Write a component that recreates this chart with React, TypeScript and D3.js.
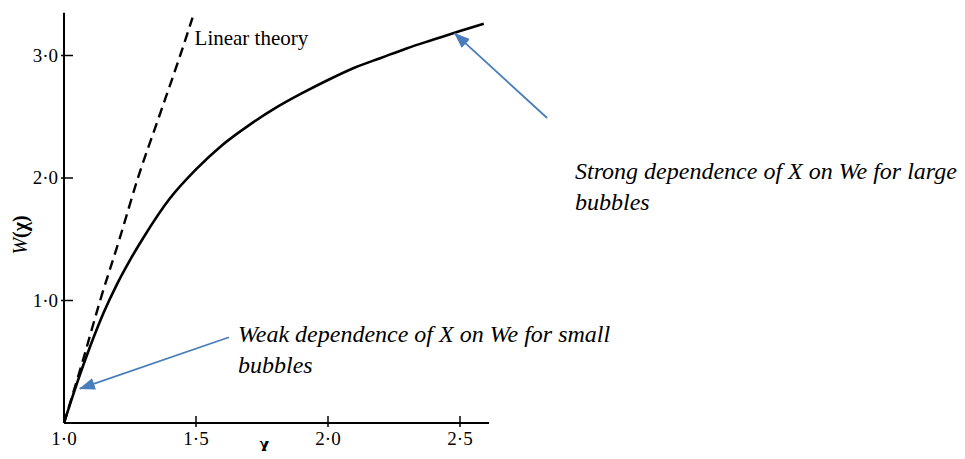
import * as d3 from "d3";
import React from "react";

// solid curve W(chi)
const chiValues = [1.0, 1.05, 1.1, 1.15, 1.2, 1.25, 1.3, 1.4, 1.5, 1.6, 1.7, 1.8, 1.9, 2.0, 2.1, 2.2, 2.3, 2.4, 2.5, 2.59];
const wValues = [0.0, 0.33, 0.63, 0.9, 1.13, 1.33, 1.51, 1.83, 2.07, 2.27, 2.43, 2.57, 2.69, 2.8, 2.9, 2.98, 3.06, 3.13, 3.2, 3.26];

// dashed "Linear theory" curve
const linChi = [1.0, 1.07, 1.137, 1.21, 1.28, 1.36, 1.44, 1.487];
const linW = [0.0, 0.5, 1.0, 1.5, 2.0, 2.5, 3.0, 3.31];

const xTicks = [1.0, 1.5, 2.0, 2.5];
const yTicks = [1.0, 2.0, 3.0];
const xTickLabels = ["1·0", "1·5", "2·0", "2·5"];
const yTickLabels = ["1·0", "2·0", "3·0"];

// annotations: [tail chi, tail W, tip chi, tip W]
const weakArrow = [1.625, 0.7, 1.06, 0.28];
const strongArrow = [2.83, 2.49, 2.48, 3.18];
const weakText = ["Weak dependence of X on We for small", "bubbles"];
const strongText = ["Strong dependence of X on We for large", "bubbles"];

const width = 965;
const height = 459;
const blue = "#4a7ebb";
const serif = "Liberation Serif";

// page has an 8px body margin; shift the drawing back by it
const off = 8;
const x = d3.scaleLinear().domain([1.0, 2.5]).range([64 - off, 460 - off]);
const y = d3.scaleLinear().domain([0, 3]).range([423 - off, 55.5 - off]);

const App = (): React.ReactElement => {
  const solid = d3
    .line<number>()
    .x((d) => x(d))
    .y((_, i) => y(wValues[i]))
    .curve(d3.curveMonotoneX)(chiValues) as string;

  const dashed = d3
    .line<number>()
    .x((d) => x(d))
    .y((_, i) => y(linW[i]))
    .curve(d3.curveMonotoneX)(linChi) as string;

  const note = (lines: string[], tx: number, ty: number) =>
    lines.map((l, i) => (
      <text key={l + i} x={tx - off} y={ty - off + i * 31} fontFamily={serif} fontStyle="italic" fontSize={24}>
        {l}
      </text>
    ));

  return (
    <svg width={width - 2 * off} height={height - 2 * off} fontFamily={serif}>
      <defs>
        <marker
          id="head"
          markerUnits="userSpaceOnUse"
          viewBox="0 0 16 12"
          refX={15}
          refY={6}
          markerWidth={16}
          markerHeight={12}
          orient="auto"
        >
          <path d="M0,0 L16,6 L0,12 Z" fill={blue} />
        </marker>
      </defs>

      {/* axes */}
      <g stroke="#000" strokeWidth={2}>
        <line x1={x(1.0)} x2={x(2.61)} y1={y(0)} y2={y(0)} />
        <line x1={x(1.0)} x2={x(1.0)} y1={y(0)} y2={y(3.35)} />
        {xTicks.slice(1).map((d) => (
          <line key={d} x1={x(d)} x2={x(d)} y1={y(0) + 4} y2={y(0) - 7} strokeWidth={1.5} />
        ))}
        {yTicks.map((d) => (
          <line key={d} x1={x(1.0) - 3} x2={x(1.0) + 9} y1={y(d)} y2={y(d)} strokeWidth={1.5} />
        ))}
      </g>

      {xTicks.map((d, i) => (
        <text key={d} x={x(d)} y={y(0) + 22} textAnchor="middle" fontFamily={serif} fontSize={19}>
          {xTickLabels[i]}
        </text>
      ))}
      {yTicks.map((d, i) => (
        <text key={d} x={x(1.0) - 6} y={y(d) + 6} textAnchor="end" fontFamily={serif} fontSize={19}>
          {yTickLabels[i]}
        </text>
      ))}

      {/* axis titles */}
      <text x={264 - off} y={451 - off} textAnchor="middle" fontFamily={serif} fontSize={20} fontWeight="bold">
        χ
      </text>
      <text transform={`translate(${27 - off},${235 - off}) rotate(-90)`} textAnchor="middle" fontFamily={serif} fontSize={20}>
        <tspan fontStyle="italic">W</tspan>
        <tspan fontWeight="bold">(χ)</tspan>
      </text>

      {/* curves */}
      <path d={solid} fill="none" stroke="#000" strokeWidth={2.6} />
      <path d={dashed} fill="none" stroke="#000" strokeWidth={2.4} strokeDasharray="10,6" />
      <text x={x(1.487) + 2} y={45 - off} fontFamily={serif} fontSize={21}>
        Linear theory
      </text>

      {/* annotation arrows */}
      {[weakArrow, strongArrow].map((a, i) => (
        <line
          key={i}
          x1={x(a[0])}
          y1={y(a[1])}
          x2={x(a[2])}
          y2={y(a[3])}
          stroke={blue}
          strokeWidth={1.8}
          markerEnd="url(#head)"
        />
      ))}
      {note(weakText, 238, 342)}
      {note(strongText, 575, 179)}
    </svg>
  );
};

export default App;
